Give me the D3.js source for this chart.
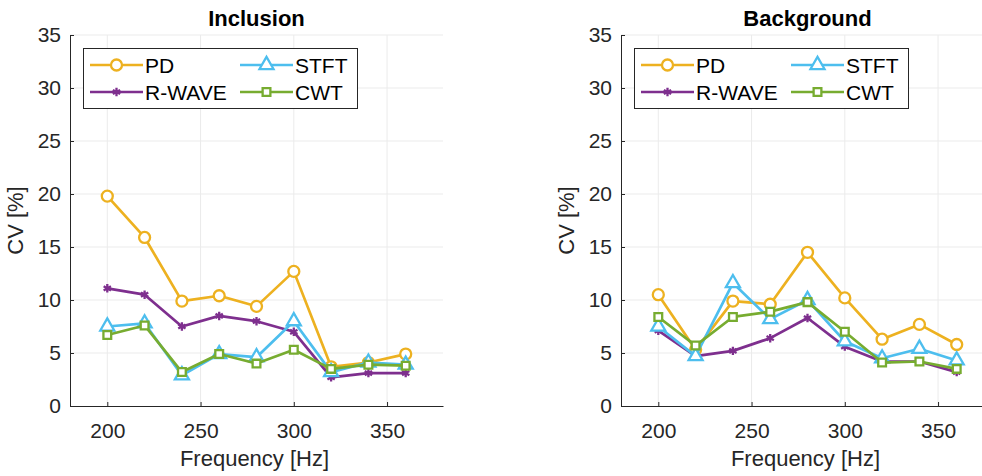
<!DOCTYPE html>
<html>
<head>
<meta charset="utf-8">
<script src="https://cdn.jsdelivr.net/npm/d3@7"></script>
<style>
  html, body { margin: 0; padding: 0; background: #fff; }
  svg { display: block; font-family: "Liberation Sans", Arial, Helvetica, sans-serif; }
</style>
</head>
<body>
<svg id="chart" width="982" height="476"></svg>
<script>
// ---- data ----
const frequencies = [200, 220, 240, 260, 280, 300, 320, 340, 360];
const seriesNames = ["PD", "R-WAVE", "STFT", "CWT"];
const seriesColors = ["#EDB120", "#7E2F8E", "#4DBEEE", "#77AC30"];
const seriesMarkers = ["circle", "asterisk", "triangle", "square"];

const inclusionPD     = [19.8, 15.9, 9.9, 10.4, 9.4, 12.7, 3.7, 4.1, 4.9];
const inclusionRWAVE  = [11.1, 10.5, 7.5, 8.5, 8.0, 7.0, 2.7, 3.1, 3.1];
const inclusionSTFT   = [7.5, 7.8, 2.9, 4.9, 4.6, 8.0, 3.2, 4.1, 3.9];
const inclusionCWT    = [6.7, 7.6, 3.2, 4.9, 4.0, 5.3, 3.5, 3.9, 3.8];

const backgroundPD    = [10.5, 5.3, 9.9, 9.6, 14.5, 10.2, 6.3, 7.7, 5.8];
const backgroundRWAVE = [7.1, 4.7, 5.2, 6.4, 8.3, 5.6, 4.2, 4.2, 3.2];
const backgroundSTFT  = [7.5, 4.7, 11.6, 8.2, 10.0, 6.1, 4.5, 5.4, 4.3];
const backgroundCWT   = [8.4, 5.7, 8.4, 8.9, 9.8, 7.0, 4.1, 4.2, 3.5];

const xTicks = [200, 250, 300, 350];
const yTicks = [0, 5, 10, 15, 20, 25, 30, 35];
const xDomain = [180, 380];
const yDomain = [0, 35];

const panels = [
  { title: "Inclusion", series: [inclusionPD, inclusionRWAVE, inclusionSTFT, inclusionCWT], left: 70 },
  { title: "Background", series: [backgroundPD, backgroundRWAVE, backgroundSTFT, backgroundCWT], left: 621 }
];

// ---- drawing ----
const svg = d3.select("#chart");
const plotW = 373, plotTop = 35, plotBottom = 406;
const axisColor = "#262626";
const fontSize = 21;

const symbolTypes = {
  circle: d3.symbolCircle,
  asterisk: d3.symbolAsterisk,
  triangle: d3.symbolTriangle,
  square: d3.symbolSquare
};
const symbolSizes = { circle: 95, asterisk: 50, triangle: 85, square: 60 };

function drawMarker(g, type, color, x, y) {
  g.append("path")
    .attr("transform", `translate(${x},${y})`)
    .attr("d", d3.symbol().type(symbolTypes[type]).size(symbolSizes[type])())
    .attr("fill", type === "asterisk" ? "none" : "#fff")
    .attr("stroke", color)
    .attr("stroke-width", 2.3);
}

panels.forEach(p => {
  const x = d3.scaleLinear().domain(xDomain).range([p.left, p.left + plotW]);
  const y = d3.scaleLinear().domain(yDomain).range([plotBottom, plotTop]);
  const g = svg.append("g");

  // grid
  g.append("g").selectAll("line").data(xTicks).join("line")
    .attr("x1", d => x(d)).attr("x2", d => x(d))
    .attr("y1", plotTop).attr("y2", plotBottom)
    .attr("stroke", "#ebebeb").attr("stroke-width", 1);
  g.append("g").selectAll("line").data(yTicks.filter(t => t > 0)).join("line")
    .attr("x1", p.left).attr("x2", p.left + plotW)
    .attr("y1", d => y(d)).attr("y2", d => y(d))
    .attr("stroke", "#ebebeb").attr("stroke-width", 1);

  // axes (ticks inside)
  const xAxis = g.append("g").attr("transform", `translate(0,${plotBottom})`)
    .call(d3.axisBottom(x).tickValues(xTicks).tickSizeInner(-4).tickSizeOuter(0).tickPadding(17));
  const yAxis = g.append("g").attr("transform", `translate(${p.left},0)`)
    .call(d3.axisLeft(y).tickValues(yTicks).tickSizeInner(-4).tickSizeOuter(0).tickPadding(9));
  [xAxis, yAxis].forEach(a => {
    a.select(".domain").attr("stroke", axisColor).attr("stroke-width", 1);
    a.selectAll(".tick line").attr("stroke", axisColor);
    a.selectAll(".tick text").attr("fill", axisColor).attr("font-size", fontSize)
      .attr("font-family", "Liberation Sans, Arial, sans-serif");
  });
  xAxis.selectAll(".tick text").attr("dy", "0.71em");

  // labels
  g.append("text").attr("x", p.left + plotW / 2).attr("y", 26)
    .attr("text-anchor", "middle").attr("font-weight", "bold")
    .attr("font-size", 22).attr("fill", "#000").text(p.title);
  g.append("text").attr("x", p.left + plotW / 2 - 2).attr("y", 466)
    .attr("text-anchor", "middle").attr("font-size", 22).attr("fill", axisColor)
    .text("Frequency [Hz]");
  g.append("text")
    .attr("transform", `translate(${p.left - 47},${(plotTop + plotBottom) / 2}) rotate(-90)`)
    .attr("text-anchor", "middle").attr("font-size", 22).attr("fill", axisColor)
    .text("CV [%]");

  // series
  const line = d3.line().x((d, i) => x(frequencies[i])).y(d => y(d));
  p.series.forEach((vals, si) => {
    const sg = g.append("g");
    sg.append("path").datum(vals).attr("d", line)
      .attr("fill", "none").attr("stroke", seriesColors[si]).attr("stroke-width", 2.7)
      .attr("stroke-linejoin", "round");
    vals.forEach((v, i) => drawMarker(sg, seriesMarkers[si], seriesColors[si], x(frequencies[i]), y(v)));
  });

  // legend
  const lx = p.left + 13, ly = 48;
  const lg = g.append("g");
  lg.append("rect").attr("x", lx + 0.5).attr("y", ly + 0.5).attr("width", 274).attr("height", 60)
    .attr("fill", "#fff").attr("stroke", axisColor).attr("stroke-width", 1);
  seriesNames.forEach((name, si) => {
    const col = Math.floor(si / 2), row = si % 2;
    const x0 = lx + 7 + col * 150, yy = ly + 17 + row * 27;
    lg.append("line").attr("x1", x0).attr("x2", x0 + 53).attr("y1", yy).attr("y2", yy)
      .attr("stroke", seriesColors[si]).attr("stroke-width", 2.7);
    drawMarker(lg, seriesMarkers[si], seriesColors[si], x0 + 26.5, yy);
    lg.append("text").attr("x", x0 + 55).attr("y", yy).attr("dy", "0.36em")
      .attr("font-size", fontSize).attr("fill", "#000").text(name);
  });
});
</script>
</body>
</html>
